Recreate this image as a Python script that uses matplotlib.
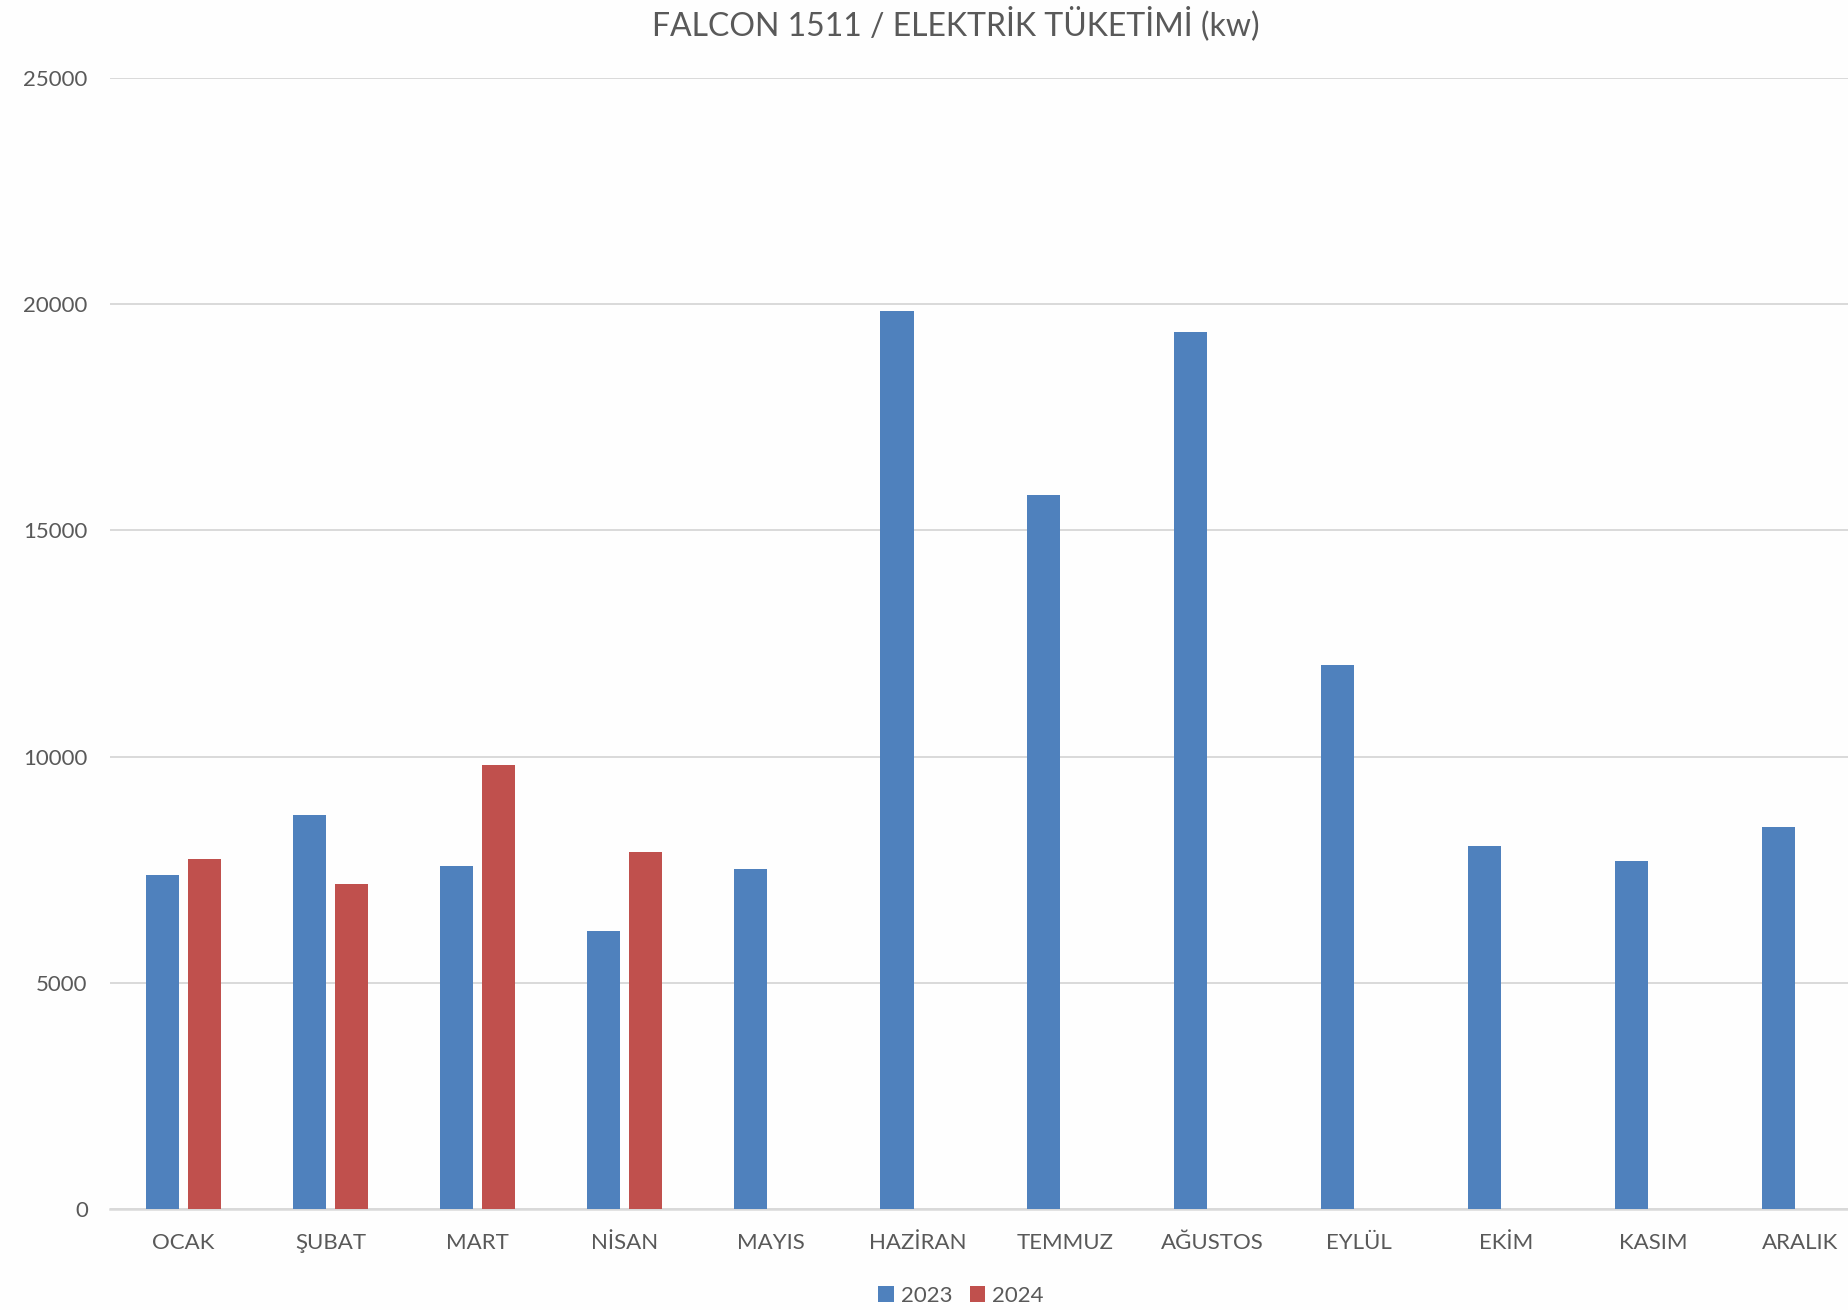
import matplotlib

matplotlib.use("Agg")
import matplotlib.pyplot as plt
import numpy as np

plt.rcParams["font.family"] = ["Lato", "DejaVu Sans"]

MONTHS = ["OCAK", "ŞUBAT", "MART", "NİSAN", "MAYIS", "HAZİRAN",
          "TEMMUZ", "AĞUSTOS", "EYLÜL", "EKİM", "KASIM", "ARALIK"]
Y2023 = [7385, 8717, 7583, 6147, 7510, 19850,
         15786, 19373, 12023, 8032, 7701, 8438]
Y2024 = [7738, 7186, 9814, 7893]
SERIES_LABELS = ["2023", "2024"]
YTICKS = [0, 5000, 10000, 15000, 20000, 25000]

BLUE = "#4f81bd"
RED = "#c0504d"
GREY_TXT = "#595959"
GRID = "#d9d9d9"

W, H = 1848, 1310
fig = plt.figure(figsize=(W / 100, H / 100), dpi=100)
fig.patch.set_facecolor("#fefefe")

# plot area runs off the right edge, as in the source screenshot
ax = fig.add_axes([110 / W, 1 - 1209.3 / H, 1 - 110 / W, (1209.3 - 77.6) / H])
ax.set_facecolor("#fefefe")

x = np.arange(len(MONTHS))
bw = 0.225
off = 0.144
ax.bar(x - off, Y2023, width=bw, color=BLUE, label=SERIES_LABELS[0], zorder=3)
ax.bar(x[:len(Y2024)] + off, Y2024, width=bw, color=RED,
       label=SERIES_LABELS[1], zorder=3)

ax.set_xlim(-0.5, (W - 183.9) / 146.9)
ax.set_ylim(0, 25000)
ax.set_yticks(YTICKS)
ax.set_yticklabels([str(v) for v in YTICKS])
ax.set_xticks(x)
ax.set_xticklabels(MONTHS)
ax.tick_params(axis="both", length=0, labelsize=16, colors=GREY_TXT)
ax.tick_params(axis="y", pad=16)
ax.tick_params(axis="x", pad=17)

ax.grid(True, axis="y", color=GRID, linewidth=1.4, zorder=0)
for side in ("left", "right", "top"):
    ax.spines[side].set_visible(False)
ax.spines["bottom"].set_color(GRID)
ax.spines["bottom"].set_linewidth(1.8)

fig.text(956 / W, 1 - 24 / H, "FALCON 1511 / ELEKTRİK TÜKETİMİ (kw)",
         ha="center", va="center", fontsize=23, color=GREY_TXT)

fig.legend(loc="center", bbox_to_anchor=(961 / W, 1 - 1296 / H), ncol=2,
           frameon=False, fontsize=16, handlelength=0.7, handleheight=0.7,
           columnspacing=0.8, handletextpad=0.3, labelcolor=GREY_TXT)

fig.savefig("out.png", dpi=100, facecolor=fig.get_facecolor())
